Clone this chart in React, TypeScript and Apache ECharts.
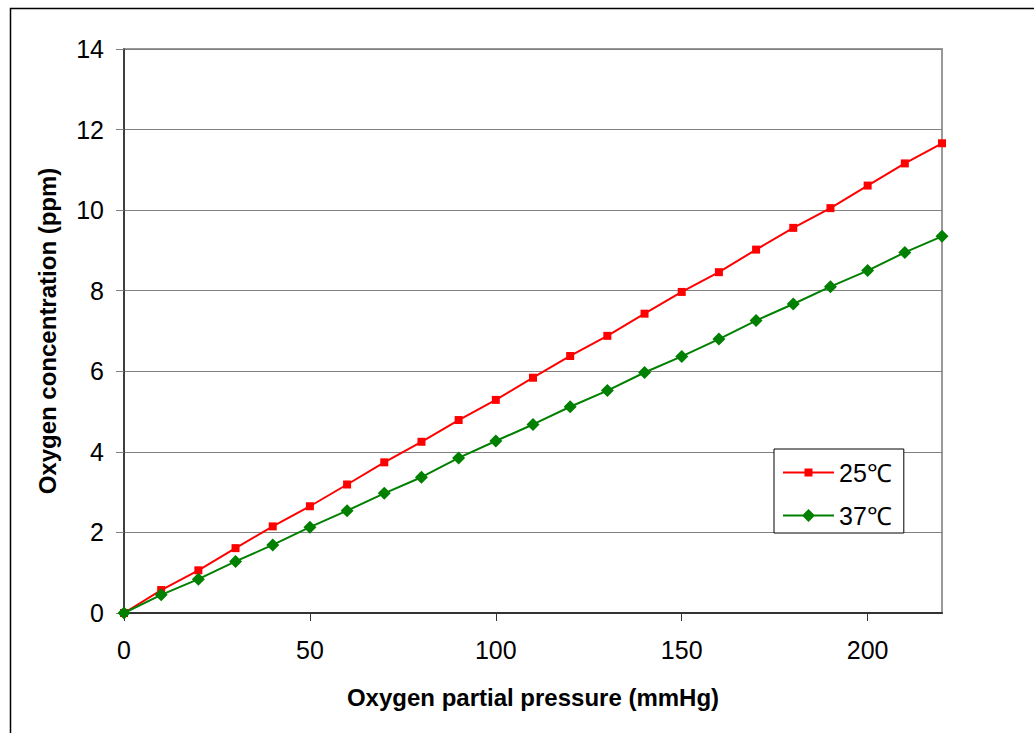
import React, { useEffect, useRef } from "react";
import * as echarts from "echarts";

const pressures = [0, 10, 20, 30, 40, 50, 60, 70, 80, 90, 100, 110, 120, 130, 140, 150, 160, 170, 180, 190, 200, 210, 220];
const conc25 = [0, 0.57, 1.06, 1.61, 2.15, 2.65, 3.19, 3.74, 4.25, 4.79, 5.29, 5.84, 6.38, 6.88, 7.43, 7.97, 8.46, 9.02, 9.56, 10.05, 10.61, 11.16, 11.66];
const conc37 = [0, 0.45, 0.84, 1.28, 1.69, 2.13, 2.54, 2.97, 3.37, 3.85, 4.27, 4.68, 5.12, 5.52, 5.97, 6.37, 6.8, 7.26, 7.67, 8.1, 8.5, 8.95, 9.35];
const xTicks = [0, 50, 100, 150, 200];
const seriesNames = ["25℃", "37℃"];
const xTitle = "Oxygen partial pressure (mmHg)";
const yTitle = "Oxygen concentration (ppm)";

const FONT = "'Liberation Sans', Arial, sans-serif";
const redIcon = "path://M0,6H51V8H0Z M21.5,3H29.5V11H21.5Z";
const greenIcon = "path://M0,6H51V8H0Z M25.5,0.5L32,7L25.5,13.5L19,7Z";

export default function App() {
  const ref = useRef<HTMLDivElement>(null);
  useEffect(() => {
    if (!ref.current) return;
    const chart = echarts.init(ref.current, null, { renderer: "svg" });
    const d25 = pressures.map((p, i) => [p, conc25[i]]);
    const d37 = pressures.map((p, i) => [p, conc37[i]]);
    chart.setOption({
      animation: false,
      backgroundColor: "#fff",
      textStyle: { fontFamily: FONT },
      graphic: [
        {
          type: "rect",
          left: 8,
          top: 6,
          shape: { width: 1040, height: 740 },
          style: { fill: "none", stroke: "#000", lineWidth: 1.5 },
          z: -10,
          silent: true,
        },
      ],
      grid: {
        left: 124,
        right: 92,
        top: 49,
        bottom: 120,
        show: true,
        borderColor: "#999",
        borderWidth: 2,
        backgroundColor: "transparent",
      },
      legend: {
        orient: "vertical",
        left: 774,
        top: 449,
        padding: [11, 12, 5, 9],
        itemGap: 18,
        itemWidth: 51,
        itemHeight: 14,
        borderColor: "#000",
        borderWidth: 1,
        backgroundColor: "#fff",
        itemStyle: { borderWidth: 0 },
        textStyle: { fontSize: 25, color: "#000", fontFamily: FONT, padding: [0, 0, 0, 0] },
        data: [
          { name: seriesNames[0], icon: redIcon },
          { name: seriesNames[1], icon: greenIcon },
        ],
      },
      xAxis: {
        type: "value",
        min: 0,
        max: 220,
        interval: 50,
        name: xTitle,
        nameLocation: "middle",
        nameGap: 72,
        nameTextStyle: { fontSize: 24, fontWeight: "bold", color: "#000", fontFamily: FONT },
        axisLine: { show: true, lineStyle: { color: "#333", width: 2 } },
        axisTick: { show: true, length: 8, lineStyle: { color: "#333" }, customValues: xTicks },
        axisLabel: { fontSize: 25, color: "#000", margin: 24, customValues: xTicks, fontFamily: FONT },
        splitLine: { show: false },
      },
      yAxis: {
        type: "value",
        min: 0,
        max: 14,
        interval: 2,
        name: yTitle,
        nameLocation: "middle",
        nameGap: 65,
        nameTextStyle: { fontSize: 24, fontWeight: "bold", color: "#000", fontFamily: FONT },
        axisLine: { show: true, lineStyle: { color: "#222", width: 1.5 } },
        axisTick: { show: true, length: 8, lineStyle: { color: "#808080" } },
        axisLabel: { fontSize: 25, color: "#000", margin: 20, fontFamily: FONT },
        splitLine: { show: true, lineStyle: { color: "#808080", width: 1 } },
      },
      series: [
        {
          name: seriesNames[0],
          type: "line",
          data: d25,
          symbol: "rect",
          symbolSize: 8,
          showAllSymbol: true,
          lineStyle: { color: "#ff0000", width: 2 },
          itemStyle: { color: "#ff0000", borderWidth: 0 },
          z: 3,
        },
        {
          name: seriesNames[1],
          type: "line",
          data: d37,
          symbol: "diamond",
          symbolSize: 13,
          showAllSymbol: true,
          lineStyle: { color: "#008000", width: 2 },
          itemStyle: { color: "#008000", borderWidth: 0 },
          z: 4,
        },
      ],
    });
    return () => chart.dispose();
  }, []);
  return (
    <div
      ref={ref}
      style={{ position: "fixed", left: 0, top: 0, width: 1034, height: 733 }}
    />
  );
}
